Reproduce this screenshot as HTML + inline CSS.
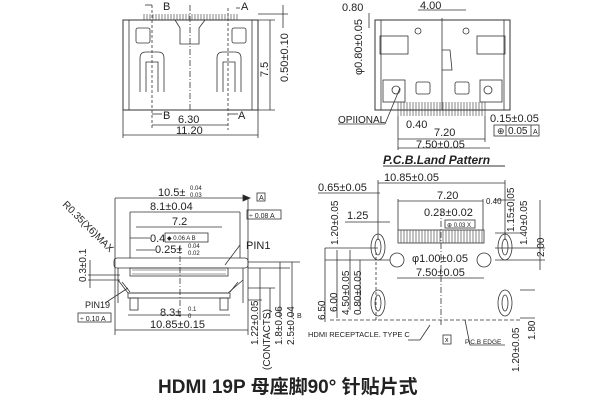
<!DOCTYPE html>
<html><head><meta charset="utf-8"><style>
html,body{margin:0;padding:0;background:#fff;width:600px;height:400px;overflow:hidden}
svg{display:block}
text{font-family:"Liberation Sans",sans-serif;fill:#222}
</style></head><body>
<svg width="600" height="400" viewBox="0 0 600 400" xmlns="http://www.w3.org/2000/svg" stroke="#333" fill="none" stroke-width="0.8">
<!-- TOP LEFT -->
<rect x="123" y="20" width="135" height="90" stroke-width="1"/>
<line x1="129" y1="20" x2="129" y2="110"/><line x1="252" y1="20" x2="252" y2="110"/>
<g stroke-width="0.6">
<path d="M144 20 V14 M147 20 V14 M150 20 V14 M153 20 V14 M156 20 V14 M159 20 V14 M162 20 V14 M165 20 V14 M168 20 V14 M171 20 V14 M174 20 V14 M177 20 V14 M180 20 V14 M183 20 V14 M186 20 V14 M189 20 V14 M192 20 V14 M195 20 V14 M198 20 V14 M201 20 V14 M204 20 V14 M207 20 V14 M210 20 V14 M213 20 V14 M216 20 V14 M219 20 V14 M222 20 V14 M225 20 V14 M228 20 V14 M231 20 V14 M234 20 V14 M237 20 V14"/>
</g>
<path d="M175 20 L180 28 V44 H199 V28 L205 20"/>
<rect x="136" y="28" width="14" height="15" rx="2"/><rect x="232" y="28" width="14" height="15" rx="2"/>
<path d="M140 92 V58 Q140 52 146 52 H158 Q164 52 164 58 V92 M146 92 V62 H158 V92"/>
<path d="M217 92 V58 Q217 52 223 52 H235 Q241 52 241 58 V92 M223 92 V62 H235 V92"/>
<line x1="190" y1="5" x2="190" y2="112" stroke-dasharray="6,2,1,2"/>
<line x1="152" y1="5" x2="152" y2="130" stroke-dasharray="3,2"/><line x1="228" y1="8" x2="228" y2="130" stroke-dasharray="3,2"/>
<line x1="145" y1="5" x2="152" y2="5"/><line x1="236" y1="8" x2="240" y2="8"/>
<line x1="258" y1="20" x2="275" y2="20"/><line x1="258" y1="110" x2="275" y2="110"/><line x1="270" y1="20" x2="270" y2="110"/>
<line x1="258" y1="14" x2="288" y2="14"/><line x1="283" y1="5" x2="283" y2="28"/>
<line x1="152" y1="125" x2="228" y2="125"/><line x1="123" y1="135" x2="258" y2="135"/>
<line x1="123" y1="110" x2="123" y2="138"/><line x1="258" y1="110" x2="258" y2="138"/>
<line x1="152" y1="114" x2="162" y2="114"/><line x1="228" y1="114" x2="238" y2="114"/>
<g stroke="none" font-size="11">
<text x="163" y="10">B</text><text x="241" y="10">A</text>
<text x="163" y="119">B</text><text x="238" y="119">A</text>
<text x="178" y="123">6.30</text><text x="176" y="134">11.20</text>
<text transform="translate(268,77) rotate(-90)">7.5</text>
<text transform="translate(288,82) rotate(-90)">0.50±0.10</text>
</g>
<!-- TOP RIGHT PCB -->
<rect x="375" y="20" width="135" height="90" stroke-width="1"/>
<line x1="381" y1="20" x2="381" y2="110"/><line x1="504" y1="20" x2="504" y2="110"/>
<line x1="442" y1="18" x2="442" y2="110"/>
<circle cx="418" cy="31" r="3"/><circle cx="466" cy="31" r="3"/>
<rect x="380" y="36" width="28" height="18"/><rect x="477" y="36" width="28" height="18"/>
<rect x="383" y="80" width="22" height="22"/><rect x="480" y="80" width="22" height="22"/>
<circle cx="396" cy="90" r="4"/><circle cx="488" cy="90" r="4"/>
<rect x="416" y="82" width="14" height="12" rx="2"/><rect x="455" y="82" width="14" height="12" rx="2"/>
<path d="M442 50 H450 L452 70 H442"/>
<g stroke-width="0.6">
<path d="M398 102 V116 M401 102 V116 M404 102 V116 M407 102 V116 M410 102 V116 M413 102 V116 M416 102 V116 M419 102 V116 M422 102 V116 M425 102 V116 M428 102 V116 M431 102 V116 M434 102 V116 M437 102 V116 M440 102 V116 M443 102 V116 M446 102 V116 M449 102 V116 M452 102 V116 M455 102 V116 M458 102 V116 M461 102 V116 M464 102 V116 M467 102 V116 M470 102 V116 M473 102 V116 M476 102 V116 M479 102 V116 M482 102 V116 M485 102 V116"/>
</g>
<line x1="418" y1="10" x2="466" y2="10"/><line x1="369" y1="13" x2="369" y2="28"/>
<line x1="338" y1="124" x2="385" y2="124"/><line x1="385" y1="124" x2="400" y2="88"/>
<line x1="398" y1="139" x2="485" y2="139"/><line x1="398" y1="148" x2="490" y2="148"/>
<line x1="398" y1="116" x2="398" y2="150"/><line x1="485" y1="116" x2="485" y2="142"/>
<rect x="494" y="125" width="45" height="11"/><line x1="506" y1="125" x2="506" y2="136"/><line x1="531" y1="125" x2="531" y2="136"/>
<line x1="383" y1="166" x2="505" y2="166" stroke-width="1"/>
<g stroke="none" font-size="11">
<text x="342" y="11">0.80</text><text x="420" y="9">4.00</text>
<text transform="translate(362,75) rotate(-90)">φ0.80±0.05</text>
<text x="338" y="123" font-size="10">OPIIONAL</text>
<text x="406" y="128">0.40</text><text x="434" y="136">7.20</text><text x="416" y="148">7.50±0.05</text>
<text x="490" y="122">0.15±0.05</text><text x="497" y="134" font-size="9">⊕</text><text x="508" y="134" font-size="10">0.05</text><text x="533" y="134" font-size="7">A</text>
<text x="383" y="164" font-size="12" font-weight="bold" font-style="italic">P.C.B.Land Pattern</text>
</g>
<!-- BOTTOM LEFT -->
<line x1="115" y1="198" x2="248" y2="198"/><path d="M243 195 L250 198 L243 201Z" fill="#222"/>
<rect x="257" y="193" width="8" height="8"/>
<line x1="130" y1="212" x2="240" y2="212"/><rect x="247" y="210" width="34" height="9"/>
<line x1="136" y1="227" x2="222" y2="227"/>
<line x1="130" y1="238" x2="150" y2="238"/><rect x="165" y="233" width="43" height="9"/>
<line x1="136" y1="250" x2="155" y2="250"/>
<line x1="115" y1="198" x2="115" y2="335"/><line x1="248" y1="198" x2="248" y2="335"/>
<line x1="130" y1="212" x2="130" y2="258"/><line x1="240" y1="212" x2="240" y2="258"/>
<rect x="114" y="258" width="134" height="10" rx="3"/>
<rect x="130" y="268" width="98" height="8"/>
<g stroke-width="0.6"><path d="M132 270 h94 M132 274 h94"/></g>
<path d="M118 268 V303 M243 268 V303 M118 280 L128 293 H228 L243 280"/>
<path d="M122 282 L130 292 M238 282 L230 292"/>
<rect x="128" y="293" width="102" height="5"/>
<rect x="130" y="298" width="8" height="12"/><rect x="220" y="298" width="8" height="12"/>
<line x1="180" y1="245" x2="180" y2="318" stroke-dasharray="6,2,1,2"/>
<line x1="128" y1="315" x2="230" y2="315"/><line x1="115" y1="330" x2="248" y2="330"/>
<rect x="78" y="313" width="33" height="9"/>
<line x1="240" y1="245" x2="225" y2="265"/><line x1="105" y1="303" x2="128" y2="288"/>
<line x1="88" y1="275" x2="120" y2="275"/><line x1="88" y1="280" x2="120" y2="280"/><line x1="90" y1="260" x2="90" y2="288"/>
<path d="M248 262 H300 M248 268 H290 M248 288 H275 M248 300 H262 M260 268 V320 M270 288 V318 M280 262 V318 M292 262 V318"/>
<g stroke="none" font-size="11">
<text x="158" y="196">10.5±</text><text x="190" y="190" font-size="6">0.04</text><text x="190" y="197" font-size="6">0.03</text>
<text x="259" y="200" font-size="7">A</text>
<text x="150" y="210">8.1±0.04</text>
<text x="249" y="218" font-size="7">÷ 0.08 A</text>
<text x="172" y="225">7.2</text>
<text x="150" y="242">0.4</text><text x="167" y="240" font-size="6">◆ 0.06 A B</text>
<text x="155" y="253">0.25±</text><text x="188" y="248" font-size="6">0.04</text><text x="188" y="255" font-size="6">0.02</text>
<text x="246" y="249">PIN1</text>
<text x="85" y="308" font-size="9">PIN19</text>
<text x="80" y="321" font-size="7">÷ 0.10 A</text>
<text x="160" y="316">8.3±</text><text x="188" y="311" font-size="6">0.1</text><text x="188" y="318" font-size="6">0</text>
<text x="150" y="328">10.85±0.15</text>
<text transform="translate(62,205) rotate(45)" font-size="10">R0.35(X6)MAX</text>
<text transform="translate(86,282) rotate(-90)" font-size="10">0.3±0.1</text>
<text transform="translate(258,345) rotate(-90)" font-size="10">1.22±0.05</text>
<text transform="translate(270,370) rotate(-90)" font-size="10">(CONTACTS)</text>
<text transform="translate(282,345) rotate(-90)" font-size="10">1.8±0.06</text>
<text transform="translate(294,345) rotate(-90)" font-size="10">2.5±0.04</text>
<text x="297" y="318" font-size="7">B</text>
</g>
<!-- BOTTOM RIGHT -->
<line x1="378" y1="183" x2="505" y2="183"/><line x1="378" y1="180" x2="378" y2="240"/><line x1="505" y1="180" x2="505" y2="240"/>
<line x1="318" y1="193" x2="380" y2="193"/>
<line x1="398" y1="201" x2="483" y2="201"/><line x1="398" y1="199" x2="398" y2="230"/><line x1="483" y1="199" x2="483" y2="230"/>
<line x1="345" y1="222" x2="390" y2="222"/>
<rect x="445" y="220" width="30" height="8"/>
<rect x="398" y="230" width="86" height="13"/>
<g stroke-width="0.6"><path d="M401 230 v13 M404 230 v13 M407 230 v13 M410 230 v13 M413 230 v13 M416 230 v13 M419 230 v13 M422 230 v13 M425 230 v13 M428 230 v13 M431 230 v13 M434 230 v13 M437 230 v13 M440 230 v13 M443 230 v13 M446 230 v13 M449 230 v13 M452 230 v13 M455 230 v13 M458 230 v13 M461 230 v13 M464 230 v13 M467 230 v13 M470 230 v13 M473 230 v13 M476 230 v13 M479 230 v13 M482 230 v13"/></g>
<ellipse cx="378" cy="247" rx="7" ry="13"/><ellipse cx="378" cy="247" rx="3" ry="8"/>
<ellipse cx="505" cy="247" rx="7" ry="13"/><ellipse cx="505" cy="247" rx="3" ry="8"/>
<ellipse cx="378" cy="303" rx="7" ry="13"/><ellipse cx="378" cy="303" rx="3" ry="8"/>
<ellipse cx="505" cy="303" rx="7" ry="13"/><ellipse cx="505" cy="303" rx="3" ry="8"/>
<circle cx="397" cy="260" r="7"/><circle cx="484" cy="260" r="7"/>
<line x1="397" y1="278" x2="484" y2="278"/>
<line x1="441" y1="210" x2="441" y2="325" stroke-dasharray="6,2,1,2"/>
<path d="M330 320 H520" stroke-dasharray="4,2"/><line x1="376" y1="320" x2="376" y2="250" stroke-dasharray="3,2"/>
<path d="M325 248 V322 M337 250 V318 M350 250 V310 M360 260 V310 M325 248 H378 M325 260 H390"/>
<path d="M495 200 H515 M495 233 H520 M495 248 H545 M495 260 H545 M540 200 V270 M520 290 H535 M520 318 H535"/>
<path d="M420 340 L430 325 M465 320 L470 345 H505"/><path d="M408 340 H420"/>
<rect x="443" y="335" width="8" height="9"/>
<g stroke="none" font-size="11">
<text x="384" y="181">10.85±0.05</text>
<text x="318" y="191">0.65±0.05</text>
<text x="437" y="199">7.20</text>
<text x="486" y="204" font-size="8">0.40</text>
<text x="347" y="219">1.25</text>
<text x="424" y="216">0.23±0.02</text><text x="447" y="227" font-size="6">⊕ 0.03 X</text>
<text x="412" y="262">φ1.00±0.05</text>
<text x="416" y="276">7.50±0.05</text>
<text x="308" y="337" font-size="7.5">HDMI RECEPTACLE. TYPE C</text>
<text x="445" y="342" font-size="7">x</text>
<text x="465" y="344" font-size="6.5">P.C.B EDGE</text>
<text transform="translate(338,245) rotate(-90)" font-size="10">1.20±0.05</text>
<text transform="translate(325,320) rotate(-90)" font-size="10">6.50</text>
<text transform="translate(337,312) rotate(-90)" font-size="10">6.00</text>
<text transform="translate(349,315) rotate(-90)" font-size="10">4.50±0.05</text>
<text transform="translate(361,315) rotate(-90)" font-size="10">0.80±0.05</text>
<text transform="translate(514,232) rotate(-90)" font-size="10">1.15±0.05</text>
<text transform="translate(527,245) rotate(-90)" font-size="10">1.40±0.05</text>
<text transform="translate(544,257) rotate(-90)" font-size="10">2.00</text>
<text transform="translate(519,372) rotate(-90)" font-size="10">1.20±0.05</text>
<text transform="translate(535,340) rotate(-90)" font-size="10">1.80</text>
</g>
<text x="158" y="393" stroke="none" font-size="19" font-weight="bold" style="font-family:'Liberation Sans','Noto Sans CJK SC',sans-serif">HDMI 19P 母座脚90°  针贴片式</text>
</svg>
</body></html>
